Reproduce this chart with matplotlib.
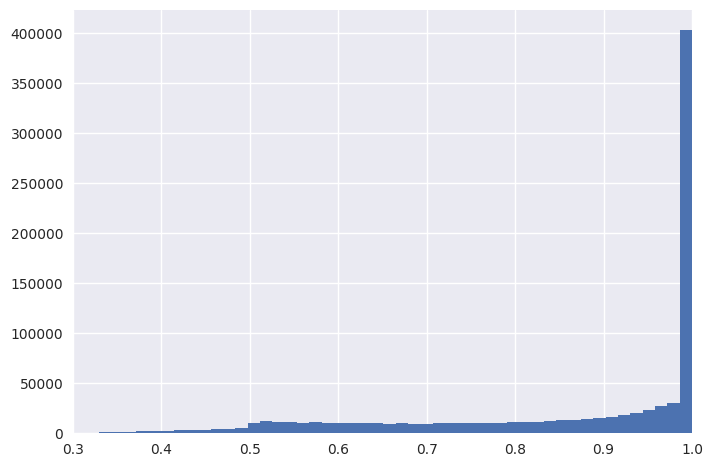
import numpy as np
import matplotlib; matplotlib.use("Agg")
import matplotlib.pyplot as plt

# histogram: 50 equal bins between these limits, counts
bin_lo, bin_hi, n_bins = 0.302, 1.0, 50
counts = [
    100, 200, 1000, 1000, 1100, 2000, 2000, 2200, 3000, 3000,
    3200, 4000, 4000, 5300, 10000, 12000, 11000, 11000, 10000, 11000,
    10000, 10000, 10000, 10000, 10000, 9000, 10000, 9000, 9000, 10000,
    10000, 10000, 10000, 10000, 10000, 11000, 11000, 11000, 12000, 13000,
    13000, 14000, 15000, 16000, 18000, 20000, 23000, 27000, 30000, 403000,
]
yticks = [0, 50000, 100000, 150000, 200000, 250000, 300000, 350000, 400000]

plt.style.use("seaborn-v0_8")
plt.rcParams["font.family"] = ["DejaVu Sans"]
edges = np.linspace(bin_lo, bin_hi, n_bins + 1)
centers = (edges[:-1] + edges[1:]) / 2

fig, ax = plt.subplots(figsize=(7.13, 4.67), dpi=100)
fig.subplots_adjust(left=0.1024, right=0.9705, top=0.9786, bottom=0.0728)
ax.hist(centers, bins=edges, weights=counts, color="#4C72B0")
ax.set_xlim(0.3, 1.0)
ax.set_yticks(yticks)
ax.tick_params(labelsize=10)
fig.savefig("out.png", dpi=100)
